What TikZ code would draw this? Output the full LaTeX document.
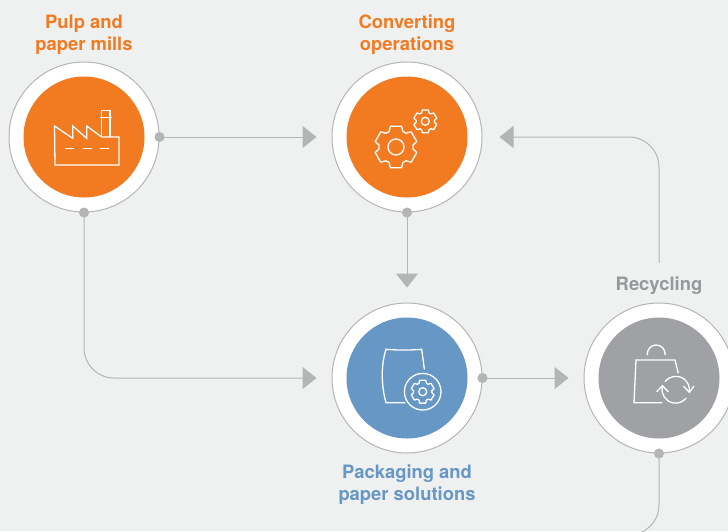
\documentclass[tikz,border=0pt]{standalone}
\usepackage{fontspec}
\setmainfont{TeX Gyre Heros}
\usetikzlibrary{positioning,arrows.meta}
\definecolor{paper}{HTML}{EFF0F0}
\definecolor{orangefill}{HTML}{F27A21}
\definecolor{bluefill}{HTML}{6797C4}
\definecolor{greyfill}{HTML}{A0A1A4}
\definecolor{greytext}{HTML}{97989A}
\definecolor{linkgrey}{HTML}{B4B5B6}
\tikzset{
	stage node/.style={circle,fill=white,draw=linkgrey,line width=1pt,minimum size=150pt,inner sep=0pt},
	core node/.style={circle,minimum size=121pt,inner sep=0pt},
	label node/.style={align=center,font=\fontsize{18.4}{22}\selectfont\bfseries},
	wire/.style={draw=linkgrey,line width=1pt},
	link/.style={wire,{Circle[length=10pt,fill=linkgrey]}-{Triangle[length=14pt,width=22pt,fill=linkgrey]},shorten <=-5pt,shorten >=15pt},
	icon/.style={draw=white,line width=1.3pt,line join=miter},
}
% cog outline: centre, outer radius, root radius, hole radius
\newcommand{\cogicon}[5]{
	\draw[icon] (#1,#2) circle (#5);
	\draw[icon,line join=round,shift={(#1,#2)}] (-54:#4)
		\foreach \a in {-30,30,...,270} {
			-- (\a-24:#4) -- (\a-15:#3) -- (\a+15:#3) -- (\a+24:#4)
		} -- cycle;
}
\begin{document}
\begin{tikzpicture}[x=1pt,y=-1pt]
	\useasboundingbox (0,0) rectangle (728,531);
	\fill[paper] (0,0) rectangle (728,531);

	\node[stage node] (pulp) at (84,137) {};
	\node[stage node] (convert) at (407,137) {};
	\node[stage node] (pack) at (407,378) {};
	\node[stage node] (recycle) at (659,378) {};
	\node[core node,fill=orangefill] (pulpcore) at (pulp) {};
	\node[core node,fill=orangefill] (convertcore) at (convert) {};
	\node[core node,fill=bluefill] (packcore) at (pack) {};
	\node[core node,fill=greyfill] (recyclecore) at (recycle) {};

	\node[label node,text=orangefill] (pulplabel) at (84,34.5) {Pulp and\\paper mills};
	\node[label node,text=orangefill] (convertlabel) at (407,34.5) {Converting\\operations};
	\node[label node,text=bluefill] (packlabel) at (407,484.5) {Packaging and\\paper solutions};
	\node[label node,text=greytext,inner sep=0pt,minimum height=46pt] (recyclelabel) at (659,286) {Recycling};
	\coordinate (tail) at (600,535);

	\path
		(pulp.east) edge[link] (convert.west)
		(convert.south) edge[link] (pack.north)
		(pack.east) edge[link] (recycle.west);
	\draw[link,rounded corners=30pt] (pulp.south) |- (pack.west);
	\draw[wire,-{Triangle[length=14pt,width=22pt,fill=linkgrey]},rounded corners=30pt,shorten >=17pt] (recyclelabel.north) |- (convert.east);
	\draw[wire,{Circle[length=10pt,fill=linkgrey]}-,shorten <=-5pt,rounded corners=30pt] (recycle.south) |- (tail);

	% factory
	\draw[icon] (54.5,126) -- (72.7,138.3) -- (72.7,126) -- (86.7,138.3) -- (86.7,126) -- (101.7,137) -- (119,137) -- (119,165) -- (55,165) -- cycle;
	\draw[icon] (101.7,137) -- (101.7,110.5) -- (110,110.5) -- (110,137);
	\draw[icon] (100,117.5) -- (111.7,117.5);
	\draw[icon] (65,148.7) -- (74,148.7) (82.7,148.7) -- (91.7,148.7) (100,148.7) -- (109.3,148.7);

	% gears
	\cogicon{396}{147}{21.5}{17}{8}
	\cogicon{425.3}{121.3}{11.8}{9.2}{4}

	% sack
	\draw[icon,line cap=round] (405,402.7) -- (386,402.7) .. controls (381,385) and (381,365) .. (386,349.3) .. controls (398,350.3) and (410,350.3) .. (421.7,349.3) .. controls (422.5,356) and (423.5,362) .. (424.3,369);
	\draw[icon] (422.7,391.7) circle (18.3);
	\cogicon{422.7}{391.7}{11.8}{9.2}{4}

	% bag
	\draw[icon] (678.3,373.3) -- (675,360) -- (636,360) -- (634,402.7) -- (662.3,402.7);
	\draw[icon] (647.3,355) -- (647.3,354) arc[start angle=180,end angle=360,x radius=8.9,y radius=9] -- (665.1,355);
	\draw[icon] (665,381.7) arc[start angle=217,end angle=369,radius=13.6];
	\draw[icon] (662.3,386.7) arc[start angle=192,end angle=39,radius=13.6];
	\draw[icon] (656.7,391.7) -- (662.3,385.7) -- (668.3,391.7);
	\draw[icon] (683.3,386) -- (689.3,392.3) -- (694,386);
\end{tikzpicture}
\end{document}
